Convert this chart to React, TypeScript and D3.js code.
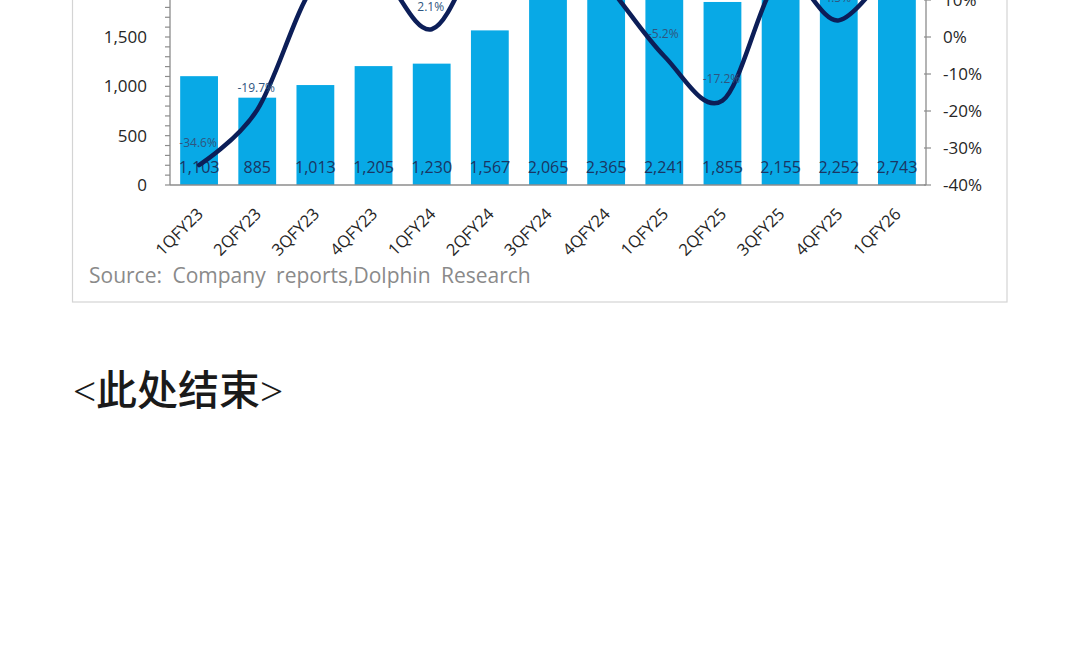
import { useRef, useEffect } from "react"
import * as d3 from "d3"

// quarters on the x axis
const quarters = [
  "1QFY23", "2QFY23", "3QFY23", "4QFY23", "1QFY24", "2QFY24", "3QFY24",
  "4QFY24", "1QFY25", "2QFY25", "3QFY25", "4QFY25", "1QFY26",
]
// revenue bars
const revenue = [1103, 885, 1013, 1205, 1230, 1567, 2065, 2365, 2241, 1855, 2155, 2252, 2743]
// QoQ growth line, %
const growth = [-34.6, -19.7, 14.5, 19.0, 2.1, 27.4, 31.8, 14.5, -5.2, -17.2, 16.2, 4.5, 21.8]

const leftTicks = [0, 500, 1000, 1500, 2000, 2500, 3000]
const rightTicks = [-40, -30, -20, -10, 0, 10, 20, 30, 40]

export default function App() {
  const svgRef = useRef<SVGSVGElement>(null)

  useEffect(() => {
    if (!svgRef.current) return
    const svg = d3.select(svgRef.current)
    svg.selectAll("*").remove()

    const width = 1080
    const height = 669
    const left = 170
    const right = 926
    const bottom = 185
    const top = -111 // plot top sits above the visible window (page is scrolled)
    const inView = (y: number) => y > -8 // skip texts that fall wholly above the window

    const x = d3.scaleBand().domain(quarters).range([left, right]).paddingInner(0.35).paddingOuter(0.175)
    const yL = d3.scaleLinear().domain([0, 3000]).range([bottom, top])
    const yR = d3.scaleLinear().domain([-40, 40]).range([bottom, top])
    const cx = (i: number) => x(quarters[i])! + x.bandwidth() / 2

    svg.append("rect").attr("width", width).attr("height", height).attr("fill", "#fff")

    // chart frame
    svg
      .append("rect")
      .attr("x", 72.5)
      .attr("y", -200)
      .attr("width", 934.5)
      .attr("height", 502)
      .attr("fill", "none")
      .attr("stroke", "#d4d4d4")
      .attr("stroke-width", 1.2)

    // bars
    svg
      .append("g")
      .selectAll("rect")
      .data(revenue)
      .join("rect")
      .attr("x", (_, i) => x(quarters[i])!)
      .attr("y", (d) => yL(d))
      .attr("width", x.bandwidth())
      .attr("height", (d) => bottom - yL(d))
      .attr("fill", "#08a9e6")

    // bar value labels
    svg
      .append("g")
      .selectAll("text")
      .data(revenue)
      .join("text")
      .attr("x", (_, i) => cx(i))
      .attr("y", bottom - 12)
      .attr("text-anchor", "middle")
      .attr("font-family", "'Open Sans', sans-serif")
      .attr("font-size", 16)
      .attr("fill", "#1a3563")
      .text((d) => d3.format(",")(d))

    // left axis
    const gl = svg.append("g").attr("transform", `translate(${left},0)`)
    gl.append("line").attr("y1", top).attr("y2", bottom).attr("stroke", "#8c8c8c").attr("stroke-width", 1.3)
    gl.selectAll("line.minor")
      .data(d3.range(0, 3001, 100))
      .join("line")
      .attr("class", "minor")
      .attr("x1", -5)
      .attr("x2", 0)
      .attr("y1", (d) => yL(d))
      .attr("y2", (d) => yL(d))
      .attr("stroke", "#8c8c8c")
      .attr("stroke-width", 1.2)
    gl.selectAll("text")
      .data(leftTicks.filter((d) => inView(yL(d))))
      .join("text")
      .attr("x", -23)
      .attr("y", (d) => yL(d))
      .attr("dy", "0.35em")
      .attr("text-anchor", "end")
      .attr("font-family", "'Open Sans', sans-serif")
      .attr("font-size", 17)
      .attr("fill", "#262626")
      .text((d) => d3.format(",")(d))

    // right axis
    const gr = svg.append("g").attr("transform", `translate(${right},0)`)
    gr.append("line").attr("y1", top).attr("y2", bottom).attr("stroke", "#8c8c8c").attr("stroke-width", 1.3)
    gr.selectAll("line.tick")
      .data(rightTicks)
      .join("line")
      .attr("class", "tick")
      .attr("x1", -2)
      .attr("x2", 5)
      .attr("y1", (d) => yR(d))
      .attr("y2", (d) => yR(d))
      .attr("stroke", "#8c8c8c")
      .attr("stroke-width", 1.2)
    gr.selectAll("text")
      .data(rightTicks.filter((d) => inView(yR(d))))
      .join("text")
      .attr("x", 17)
      .attr("y", (d) => yR(d))
      .attr("dy", "0.35em")
      .attr("font-family", "'Open Sans', sans-serif")
      .attr("font-size", 17)
      .attr("fill", "#262626")
      .text((d) => `${d}%`)

    // bottom axis line
    svg
      .append("line")
      .attr("x1", left)
      .attr("x2", right)
      .attr("y1", bottom)
      .attr("y2", bottom)
      .attr("stroke", "#8c8c8c")
      .attr("stroke-width", 1.3)

    // x labels, rotated
    svg
      .append("g")
      .selectAll("text")
      .data(quarters)
      .join("text")
      .attr("transform", (_, i) => `translate(${cx(i) + 5},${bottom + 30}) rotate(-45)`)
      .attr("text-anchor", "end")
      .attr("font-family", "'Open Sans', sans-serif")
      .attr("font-size", 16.5)
      .attr("fill", "#262626")
      .text((d) => d)

    // growth line
    const line = d3
      .line<number>()
      .x((_, i) => cx(i))
      .y((d) => yR(d))
      .curve(d3.curveCatmullRom.alpha(0))

    svg
      .append("path")
      .datum(growth)
      .attr("d", line)
      .attr("fill", "none")
      .attr("stroke", "#0c1e58")
      .attr("stroke-width", 4.5)
      .attr("stroke-linecap", "round")

    // growth labels
    svg
      .append("g")
      .selectAll("text")
      .data(growth.map((v, i) => ({ v, i })).filter((d) => inView(yR(d.v) - 18)))
      .join("text")
      .attr("x", (d) => cx(d.i) - 1)
      .attr("y", (d) => yR(d.v) - 18)
      .attr("text-anchor", "middle")
      .attr("font-family", "'Open Sans', sans-serif")
      .attr("font-size", 12)
      .attr("fill", "#2f5580")
      .text((d) => `${d.v.toFixed(1)}%`)

    // source
    svg
      .append("text")
      .attr("x", 89)
      .attr("y", 283)
      .attr("font-family", "'Open Sans', sans-serif")
      .attr("font-size", 21)
      .attr("word-spacing", 5)
      .attr("fill", "#8a8a8a")
      .text("Source: Company reports,Dolphin Research")

    // end marker of the article
    svg
      .append("text")
      .attr("x", 73)
      .attr("y", 405)
      .attr("font-family", "'Liberation Serif', 'Noto Sans CJK SC', serif")
      .attr("font-size", 41)
      .attr("font-weight", 500)
      .attr("fill", "#1a1a1a")
      .text("<此处结束>")
  }, [])

  return (
    <div style={{ position: "absolute", left: 0, top: 0, width: 1080, height: 669, overflow: "hidden" }}>
      <svg ref={svgRef} width={1080} height={669} style={{ display: "block" }} />
    </div>
  )
}
